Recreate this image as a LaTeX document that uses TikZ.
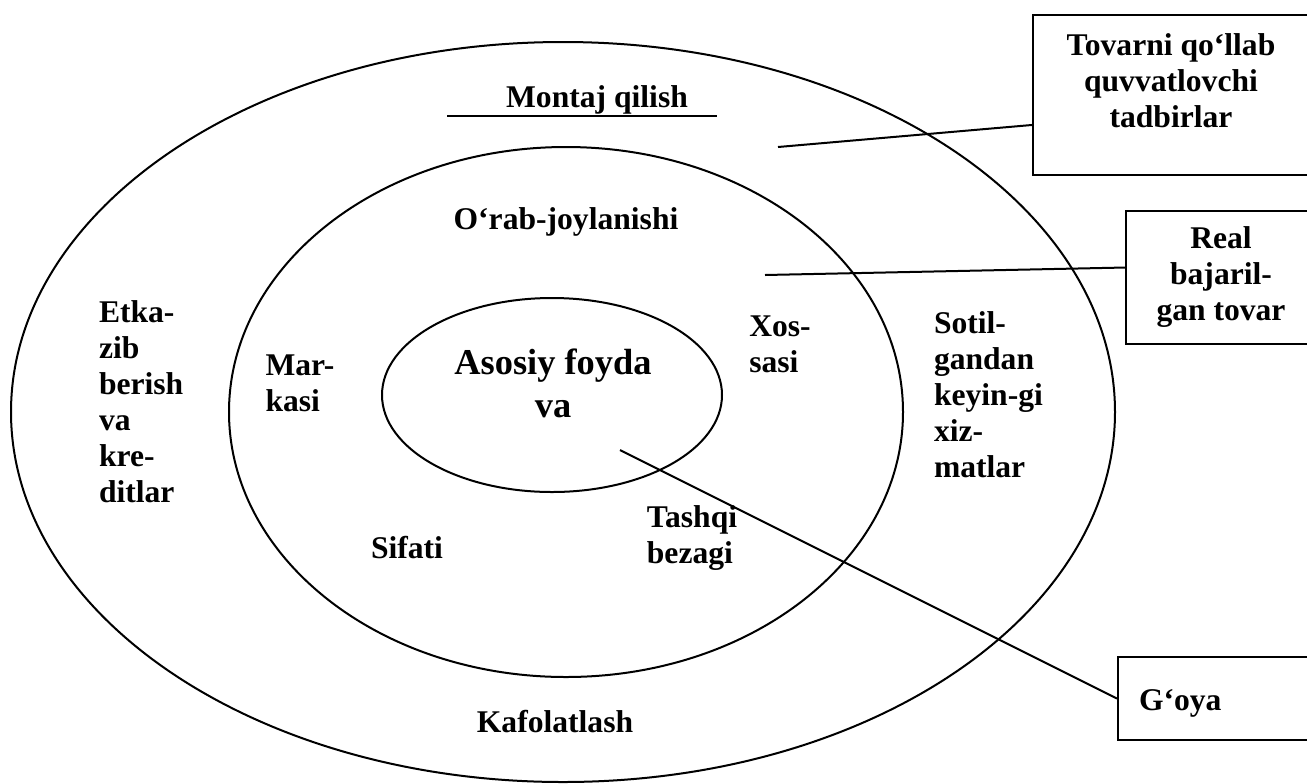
\documentclass[tikz,border=0pt]{standalone}
\usepackage{fontspec}
\setmainfont{Liberation Serif}
\begin{document}
\begin{tikzpicture}[x=0.5pt, y=-0.5pt, line width=1pt,
    every node/.style={font=\bfseries\fontsize{15.8}{18}\selectfont, inner sep=0pt},
    lbl/.style={align=left},
    tbox/.style={draw, anchor=north west}]
  \useasboundingbox (0,0) rectangle (1307,783);
  \clip (0,0) rectangle (1307,783);

  % Ellipslar
  \draw (563,412) ellipse [x radius=552, y radius=370];
  \draw (566,412) ellipse [x radius=337, y radius=265];
  \draw (552,395) ellipse [x radius=170, y radius=97];

  % Ichki yozuvlar
  \node[font=\bfseries\fontsize{18.2}{21.5}\selectfont, align=center] (asosiy) at (553,383) {Asosiy foyda\\va};
  \node (montaj) at (597,100) {Montaj qilish};
  \draw (447,116) -- (717,116);
  \node (orab) at (566,222) {O‘rab-joylanishi};
  \node[lbl] (xossa) at (780,344) {Xos-\\sasi};
  \node[lbl] (marka) at (300,383) {Mar-\\kasi};
  \node (sifat) at (407,548) {Sifati};
  \node[lbl] (tashqi) at (692,538) {Tashqi\\bezagi};
  \node (kafolat) at (555,722) {Kafolatlash};
  \node[lbl, anchor=west] (etka) at (98,402) {Etka-\\zib\\berish\\va\\kre-\\ditlar};
  \node[lbl, anchor=west] (sotil) at (933,395) {Sotil-\\gandan\\keyin-gi\\xiz-\\matlar};

  % Qutilar
  \node[tbox, minimum width=140pt, minimum height=80pt] (tovbox) at (1032,14) {};
  \node[align=center] (tovtext) at (1171,81) {Tovarni qo‘llab\\quvvatlovchi\\tadbirlar};
  \node[tbox, minimum width=94pt, minimum height=66.5pt] (realbox) at (1125,210) {};
  \node[align=center] (realtext) at (1221,277) {Real\\bajaril-\\gan tovar};
  \node[tbox, minimum width=97pt, minimum height=41.5pt] (goyabox) at (1117,656) {};
  \node[anchor=west] (goyatext) at (1138,703) {G‘oya};

  % Chiziqlar
  \coordinate (tovend) at (778,147);
  \coordinate (realend) at (765,275);
  \coordinate (goyaend) at (620,450);
  \draw (tovend) -- (tovbox.192);
  \draw (realend) -- (realbox.174);
  \draw (goyaend) -- (goyabox.west);
\end{tikzpicture}
\end{document}
